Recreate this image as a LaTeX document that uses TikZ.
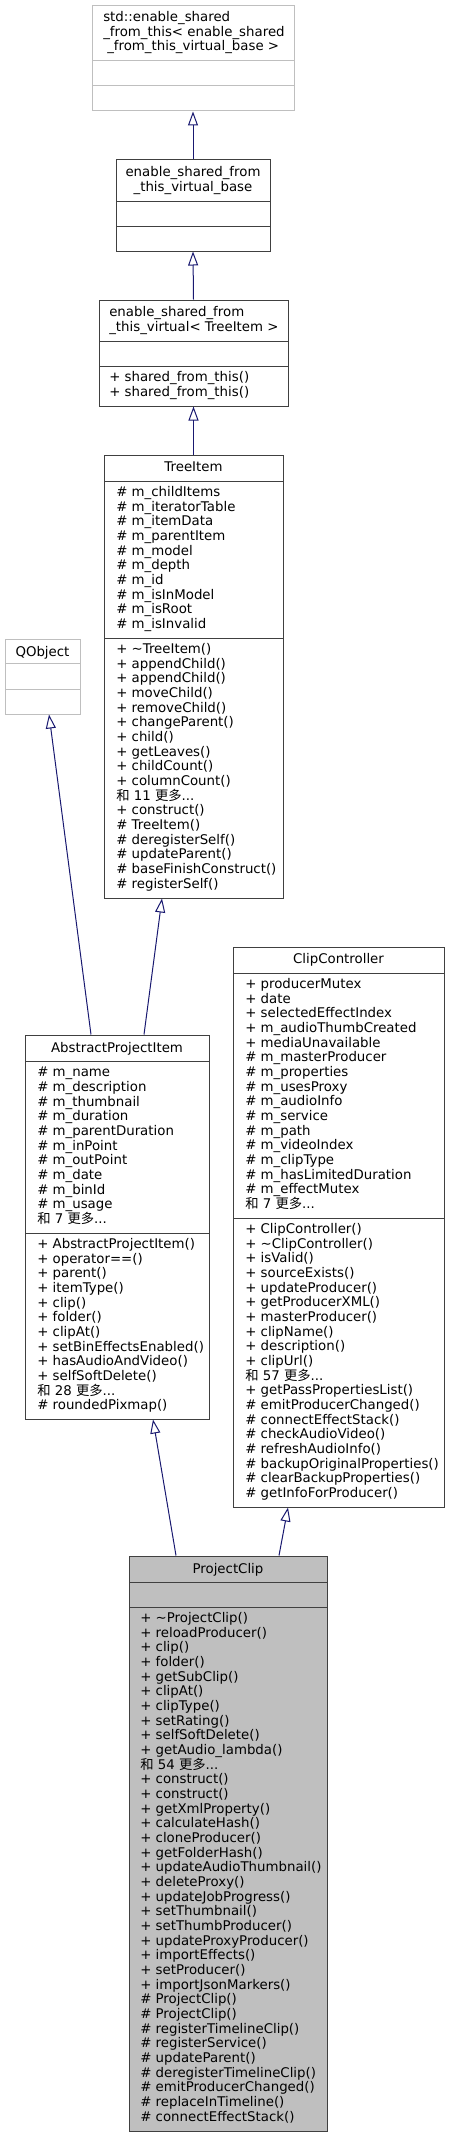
\documentclass[tikz,border=0pt]{standalone}
\usepackage{fontspec}
\setmainfont{DejaVu Sans}
\newfontfamily\cjk{Noto Sans CJK SC}
\usetikzlibrary{arrows.meta,calc}
\definecolor{edgeblue}{HTML}{191970}
\definecolor{boxgray}{HTML}{404040}
\definecolor{lightgray}{HTML}{BFBFBF}
\newcommand\morecount[1]{{\cjk 和} #1 {\cjk 更多}...}
\tikzset{
  classbox/.style={draw=boxgray, line width=0.75pt, inner sep=0pt},
  extbox/.style={draw=lightgray, line width=0.75pt, inner sep=0pt},
  members/.style={anchor=north west, inner sep=0pt, align=left, font=\fontsize{10}{11}\selectfont},
  title/.style={anchor=base, inner sep=0pt, font=\fontsize{10}{11}\selectfont},
  inherit/.style={draw=edgeblue, line width=0.75pt, -{Triangle[open,length=10.5pt,width=7.5pt]}}
}
\begin{document}
\begin{tikzpicture}[x=0.75pt,y=-0.75pt]
\useasboundingbox (0,0) rectangle (449,2137);
% std::enable_shared_from_this
\node[extbox, minimum width=202*0.75pt, minimum height=105*0.75pt] (esft) at (193,58.5) {};
\draw[lightgray, line width=0.75pt] (92,61) -- (294,61) (92,86) -- (294,86);
\node[members] (esft-name) at (103,11) {std::enable\_shared\\\_from\_this< enable\_shared\\\hspace{3pt}\_from\_this\_virtual\_base >};
% enable_shared_from_this_virtual_base
\node[classbox, minimum width=154*0.75pt, minimum height=91*0.75pt] (esftvb) at (193,205.5) {};
\draw[boxgray, line width=0.75pt] (116,201) -- (270,201) (116,226) -- (270,226);
\node[members, anchor=north, align=center] (esftvb-name) at (193,166) {enable\_shared\_from\\\_this\_virtual\_base};
% enable_shared_from_this_virtual< TreeItem >
\node[classbox, minimum width=189*0.75pt, minimum height=106*0.75pt] (esftv) at (193.5,353) {};
\draw[boxgray, line width=0.75pt] (99,341) -- (288,341) (99,366) -- (288,366);
\node[members] (esftv-name) at (109,306) {enable\_shared\_from\\\_this\_virtual< TreeItem >};
\node[members] (esftv-ops) at (109,371) {+ shared\_from\_this()\\+ shared\_from\_this()};
% TreeItem
\node[classbox, minimum width=179*0.75pt, minimum height=443*0.75pt] (treeitem) at (193.5,676.5) {};
\draw[boxgray, line width=0.75pt] (104,481) -- (283,481) (104,638) -- (283,638);
\node[title] (treeitem-name) at (193.5,471) {TreeItem};
\node[members] (treeitem-attr) at (116,486) {\# m\_childItems\\\# m\_iteratorTable\\\# m\_itemData\\\# m\_parentItem\\\# m\_model\\\# m\_depth\\\# m\_id\\\# m\_isInModel\\\# m\_isRoot\\\# m\_isInvalid};
\node[members] (treeitem-ops) at (116,643) {+ \textasciitilde TreeItem()\\+ appendChild()\\+ appendChild()\\+ moveChild()\\+ removeChild()\\+ changeParent()\\+ child()\\+ getLeaves()\\+ childCount()\\+ columnCount()\\\morecount{11}\\+ construct()\\\# TreeItem()\\\# deregisterSelf()\\\# updateParent()\\\# baseFinishConstruct()\\\# registerSelf()};
% QObject
\node[extbox, minimum width=75*0.75pt, minimum height=75*0.75pt] (qobject) at (42.5,676.5) {};
\draw[lightgray, line width=0.75pt] (5,663) -- (80,663) (5,689) -- (80,689);
\node[title] (qobject-name) at (42.5,656) {QObject};
% AbstractProjectItem
\node[classbox, minimum width=184*0.75pt, minimum height=384*0.75pt] (apitem) at (117,1227) {};
\draw[boxgray, line width=0.75pt] (25,1061) -- (209,1061) (25,1233) -- (209,1233);
\node[title] (apitem-name) at (117,1052) {AbstractProjectItem};
\node[members] (apitem-attr) at (37,1067) {\# m\_name\\\# m\_description\\\# m\_thumbnail\\\# m\_duration\\\# m\_parentDuration\\\# m\_inPoint\\\# m\_outPoint\\\# m\_date\\\# m\_binId\\\# m\_usage\\\morecount{7}};
\node[members] (apitem-ops) at (37,1238) {+ AbstractProjectItem()\\+ operator==()\\+ parent()\\+ itemType()\\+ clip()\\+ folder()\\+ clipAt()\\+ setBinEffectsEnabled()\\+ hasAudioAndVideo()\\+ selfSoftDelete()\\\morecount{28}\\\# roundedPixmap()};
% ClipController
\node[classbox, minimum width=211*0.75pt, minimum height=560*0.75pt] (clipctrl) at (338.5,1227) {};
\draw[boxgray, line width=0.75pt] (233,973) -- (444,973) (233,1218) -- (444,1218);
\node[title] (clipctrl-name) at (338.5,963) {ClipController};
\node[members] (clipctrl-attr) at (245,978) {+ producerMutex\\+ date\\+ selectedEffectIndex\\+ m\_audioThumbCreated\\+ mediaUnavailable\\\# m\_masterProducer\\\# m\_properties\\\# m\_usesProxy\\\# m\_audioInfo\\\# m\_service\\\# m\_path\\\# m\_videoIndex\\\# m\_clipType\\\# m\_hasLimitedDuration\\\# m\_effectMutex\\\morecount{7}};
\node[members] (clipctrl-ops) at (245,1223) {+ ClipController()\\+ \textasciitilde ClipController()\\+ isValid()\\+ sourceExists()\\+ updateProducer()\\+ getProducerXML()\\+ masterProducer()\\+ clipName()\\+ description()\\+ clipUrl()\\\morecount{57}\\+ getPassPropertiesList()\\\# emitProducerChanged()\\\# connectEffectStack()\\\# checkAudioVideo()\\\# refreshAudioInfo()\\\# backupOriginalProperties()\\\# clearBackupProperties()\\\# getInfoForProducer()};
% ProjectClip
\node[classbox, fill=lightgray, minimum width=198*0.75pt, minimum height=575*0.75pt] (projclip) at (228,1843.5) {};
\draw[boxgray, line width=0.75pt] (129,1582) -- (327,1582) (129,1607) -- (327,1607);
\node[title] (projclip-name) at (228,1573) {ProjectClip};
\node[members] (projclip-ops) at (140,1612) {+ \textasciitilde ProjectClip()\\+ reloadProducer()\\+ clip()\\+ folder()\\+ getSubClip()\\+ clipAt()\\+ clipType()\\+ setRating()\\+ selfSoftDelete()\\+ getAudio\_lambda()\\\morecount{54}\\+ construct()\\+ construct()\\+ getXmlProperty()\\+ calculateHash()\\+ cloneProducer()\\+ getFolderHash()\\+ updateAudioThumbnail()\\+ deleteProxy()\\+ updateJobProgress()\\+ setThumbnail()\\+ setThumbProducer()\\+ updateProxyProducer()\\+ importEffects()\\+ setProducer()\\+ importJsonMarkers()\\\# ProjectClip()\\\# ProjectClip()\\\# registerTimelineClip()\\\# registerService()\\\# updateParent()\\\# deregisterTimelineClip()\\\# emitProducerChanged()\\\# replaceInTimeline()\\\# connectEffectStack()};
% inheritance
\draw[inherit] (esftvb.north) -- (esft.south);
\draw[inherit] (esftv.north) -- (esftvb.south);
\draw[inherit] (treeitem.north) -- (esftv.south);
\draw[inherit] ($(apitem.north)+(-26,0)$) -- ($(qobject.south)+(6.5,0)$);
\draw[inherit] ($(apitem.north)+(27,0)$) -- ($(treeitem.south)+(-31.5,0)$);
\draw[inherit] ($(projclip.north)+(-52,0)$) -- ($(apitem.south)+(36,0)$);
\draw[inherit] ($(projclip.north)+(51,0)$) -- ($(clipctrl.south)+(-50.5,0)$);
\end{tikzpicture}
\end{document}
